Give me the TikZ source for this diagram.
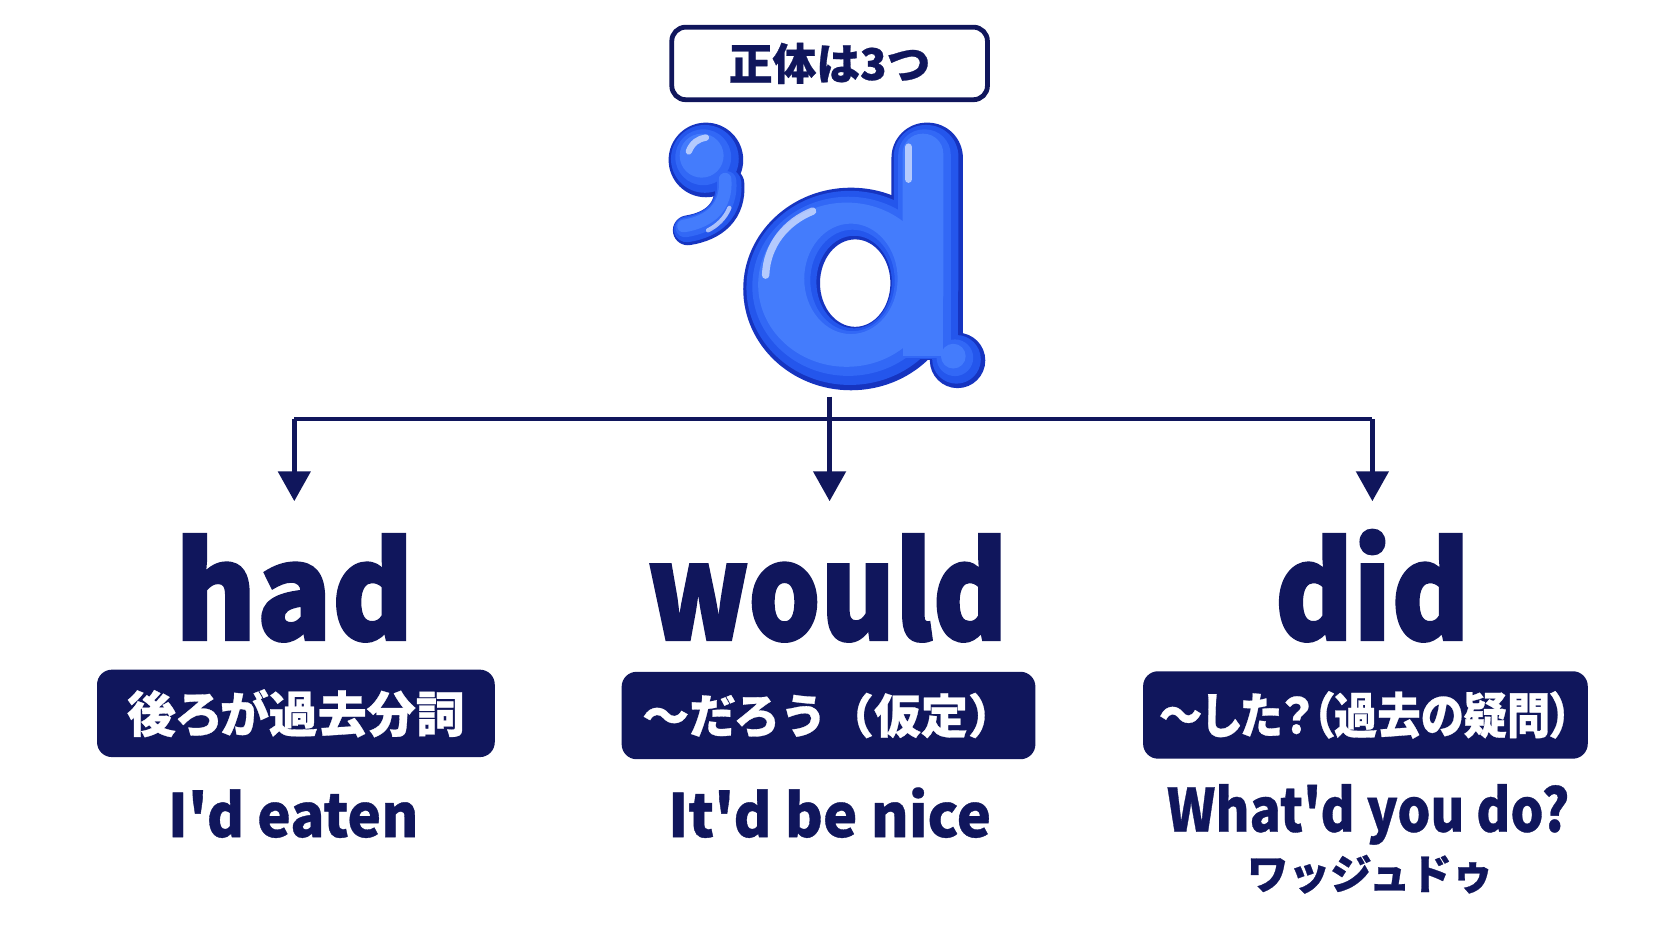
\documentclass[tikz,border=0pt]{standalone}
\usepackage{fontspec}
\usepackage{graphicx}
\newfontfamily\jp{Noto Sans CJK JP}[RawFeature=+palt, BoldFeatures={FakeBold=0.6}]
\newfontfamily\jpw{Noto Sans CJK JP}[BoldFeatures={FakeBold=0.6}]
\newfontfamily\heavy{Noto Sans CJK JP}[BoldFeatures={FakeBold=2}]
\usetikzlibrary{arrows.meta}
\definecolor{navy}{RGB}{16,22,92}
\definecolor{dedge}{RGB}{22,52,192}
\definecolor{dmain}{RGB}{36,86,236}
\definecolor{dmid}{RGB}{50,104,246}
\definecolor{dlight}{RGB}{68,124,252}
\begin{document}
\begin{tikzpicture}[x=1pt,y=-1pt,
  titlebox/.style={draw=navy, line width=4.5pt, rounded corners=13pt, fill=white,
    minimum width=296pt, minimum height=68pt, inner sep=0pt,
    font=\jpw\bfseries\fontsize{41}{41}\selectfont, text=navy},
  labelbox/.style={fill=navy, rounded corners=14pt, text=white, inner sep=0pt,
    minimum height=82pt, font=\jp\bfseries\fontsize{46}{46}\selectfont},
  word/.style={font=\heavy\bfseries\fontsize{124}{124}\selectfont, text=navy, anchor=base, inner sep=0pt},
  example/.style={font=\jp\bfseries\fontsize{56}{56}\selectfont, text=navy, anchor=base, inner sep=0pt},
  conn/.style={draw=navy, line width=4.5pt},
  arr/.style={conn, -{Triangle[width=30pt,length=28pt]}},
  gloss/.style={draw=white, opacity=0.6, line cap=round}
]
\useasboundingbox[fill=white] (0,0) rectangle (1568,882);

% title
\node[titlebox] (title) at (778,59.5) {正体は3つ};

% the big 'd, built up in layers to look inflated
\foreach \k/\c/\s in {0/dedge/0, 4/dmain/1, 11/dmid/2.5, 18/dlight/4}{
  \pgfmathsetmacro\rh{35-0.8*\k}
  \pgfmathsetmacro\lw{28-0.9*\k}
  \pgfmathsetmacro\bx{101-\k}
  \pgfmathsetmacro\by{95-\k}
  \pgfmathsetmacro\hx{33+0.6*\k}
  \pgfmathsetmacro\hy{41+0.6*\k}
  \pgfmathsetmacro\sa{836+0.8*\k}
  \pgfmathsetmacro\sb{903-0.8*\k}
  \pgfmathsetmacro\st{115+0.8*\k}
  \pgfmathsetmacro\rc{33-0.8*\k}
  \pgfmathsetmacro\rf{26-0.8*\k}
  \begin{scope}[shift={(-\s,-\s)}]
    \fill[\c] (662,150) circle (\rh pt);
    \draw[\c, line width=\lw pt, line cap=round] (684,172) .. controls (686,198) and (670,212) .. (645,216);
    \fill[\c, even odd rule] (798,271) ellipse [x radius=\bx pt, y radius=\by pt]
      (802,265.5) ellipse [x radius=\hx pt, y radius=\hy pt];
    \fill[\c, rounded corners=\rc pt] (\sa,\st) rectangle (\sb,300);
    \fill[\c] (\sa,200) rectangle (\sb,338);
    \fill[\c] (898,338) circle (\rf pt);
  \end{scope}
}
\draw[gloss, line width=7pt] (718,258) .. controls (719,230) and (737,208) .. (762,198);
\draw[gloss, line width=7pt] (852,138) -- (852,168);
\draw[gloss, line width=6pt] (646,142) .. controls (649,134) and (655,130) .. (662,129);
\draw[gloss, line width=4pt] (684,195) .. controls (680,205) and (672,212) .. (664,216);
\coordinate (dbot) at (778,372);

% connectors
\coordinate (hL) at (276,393);
\coordinate (hR) at (1287,393);
\coordinate (aL) at (276,470);
\coordinate (aM) at (778,470);
\coordinate (aR) at (1287,470);
\draw[conn] (hL) -- (hR);
\draw[arr] (hL) -- (aL);
\draw[arr] (dbot) -- (aM);
\draw[arr] (hR) -- (aR);

% words
\node[word] (had) at (276,600) {\scalebox{0.94}[1]{had}};
\node[word] (would) at (776,600) {\scalebox{0.86}[1]{would}};
\node[word] (did) at (1287,600) {\scalebox{0.9}[1]{did}};

% meaning boxes
\node[labelbox, minimum width=373pt] (m1) at (277.5,669) {後ろが過去分詞};
\node[labelbox, minimum width=388pt, font=\jpw\bfseries\fontsize{44}{44}\selectfont] (m2) at (777,671) {～だろう（仮定）};
\node[labelbox, minimum width=417pt] (m3) at (1280.5,670.5) {\scalebox{0.885}[1]{～した？（過去の疑問）}};

% examples
\node[example] (e1) at (275,785) {\scalebox{0.95}[1]{I'd eaten}};
\node[example] (e2) at (778,785) {\scalebox{0.97}[1]{It'd be nice}};
\node[example] (e3) at (1283,780) {\scalebox{0.87}[1]{What'd you do?}};
\node[font=\jpw\bfseries\fontsize{39}{39}\selectfont, text=navy, anchor=base, inner sep=0pt] (kana) at (1285,834) {ワッジュドゥ};
\end{tikzpicture}
\end{document}
